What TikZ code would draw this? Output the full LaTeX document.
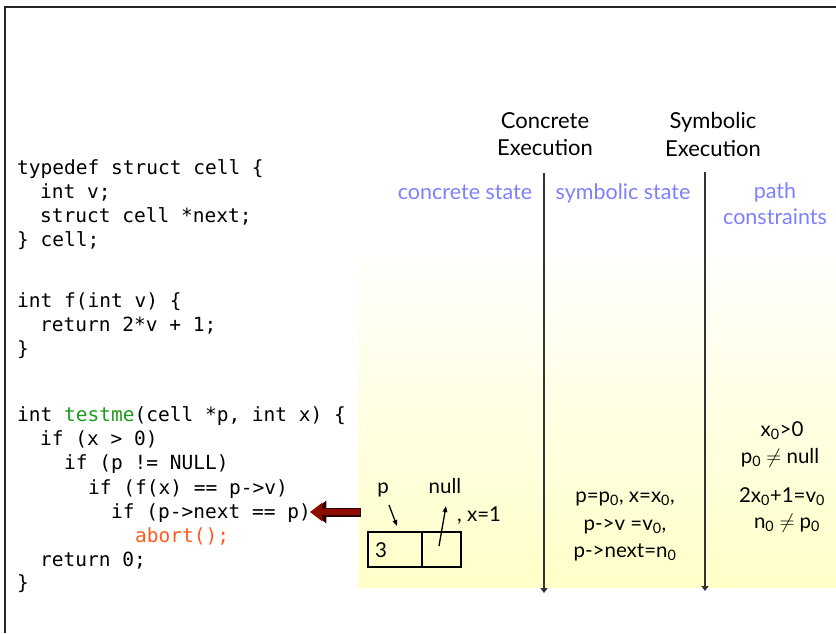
\documentclass[tikz,border=0pt]{standalone}
\usepackage{fontspec}
\setmainfont{Lato}
\newfontfamily\codefont{DejaVu Sans Mono}
\usetikzlibrary{arrows.meta}

\definecolor{fnname}{RGB}{30,155,30}
\definecolor{abortc}{RGB}{255,90,30}
\definecolor{labelblue}{RGB}{125,128,255}
\definecolor{pale}{RGB}{255,255,200}
\definecolor{arrowred}{RGB}{140,12,0}

\tikzset{
  code/.style={font=\codefont\fontsize{19.5}{24}\selectfont, anchor=base west, inner sep=0},
  head/.style={font=\fontsize{22}{26}\selectfont, anchor=base, inner sep=0},
  colhead/.style={font=\fontsize{21.5}{25}\selectfont, anchor=base, inner sep=0, text=labelblue},
  val/.style={font=\fontsize{20.5}{25}\selectfont, anchor=base, inner sep=0},
  timeline/.style={line width=1.2, draw=black!80, -{Triangle[length=5,width=7]}},
  ptr/.style={line width=1.3, -{Triangle[length=6,width=4.5]}},
  hitout/.style={line width=9, draw=black!70!arrowred, -{Triangle[length=15,width=22]}},
  hit/.style={line width=6.4, draw=arrowred, -{Triangle[length=12.5,width=18]}}
}

\begin{document}
\begin{tikzpicture}[x=1pt, y=-1pt]
\useasboundingbox (0,0) rectangle (836,633);

% frame
\draw[line width=1.6, draw=black!85] (5,633) -- (5,7) -- (836,7);

% shaded execution area
\shade[top color=white, bottom color=pale] (358,240) rectangle (836,587);

% source code
\node[code] (l1)  at (17,174) {typedef struct cell \{};
\node[code] (l2)  at (40,198) {int v;};
\node[code] (l3)  at (40,222) {struct cell *next;};
\node[code] (l4)  at (17,246) {\} cell;};
\node[code] (l5)  at (17,307) {int f(int v) \{};
\node[code] (l6)  at (40,331) {return 2*v + 1;};
\node[code] (l7)  at (17,355) {\}};
\node[code] (l8)  at (17,421) {int \textcolor{fnname}{testme}(cell *p, int x) \{};
\node[code] (l9)  at (40,445) {if (x > 0)};
\node[code] (l10) at (64,469) {if (p != NULL)};
\node[code] (l11) at (88,494) {if (f(x) == p->v)};
\node[code] (l12) at (111,518) {if (p->next == p)};
\node[code, text=abortc] (l13) at (135,542) {abort();};
\node[code] (l14) at (40,566) {return 0;};
\node[code] (l15) at (17,589) {\}};

% pointer to the current statement
\coordinate (hitstart) at (361,512);
\coordinate (hitend) at ([xshift=0.5,yshift=6]l12.base east);
\draw[hitout] (hitstart) -- (hitend);
\draw[hit] ([xshift=-1]hitstart) -- ([xshift=-1.6]hitend);

% column headings
\node[head] (ce1) at (545,128) {Concrete};
\node[head] (ce2) at (545,155) {Execution};
\node[head] (se1) at (713,128) {Symbolic};
\node[head] (se2) at (713,156) {Execution};

\node[colhead] (cs) at (465,199) {concrete state};
\node[colhead] (ss) at (623,199) {symbolic state};
\node[colhead] (pc1) at (775,198) {path};
\node[colhead] (pc2) at (775,224) {constraints};

% time lines
\coordinate (t1top) at (544,173);
\coordinate (t1bot) at (544,593);
\coordinate (t2top) at (705,172);
\coordinate (t2bot) at (705,591);
\draw[timeline] (t1top) -- (t1bot);
\draw[timeline] (t2top) -- (t2bot);

% concrete state: the heap cell
\node[draw, line width=1.4, minimum width=93, minimum height=35, inner sep=0] (mem) at (414.5,549.5) {};
\draw[line width=1.4] ([xshift=7.5]mem.north) -- ([xshift=7.5]mem.south);
\node[val, anchor=base] (three) at (381,557) {3};
\node[val] (pl) at (383,493) {p};
\node[val] (nl) at (445,493) {null};
\node[val, anchor=base west] (xv) at (457,521) {, x=1};
\coordinate (pa) at (389,505);
\coordinate (pb) at (397,526);
\draw[ptr] (pa) -- (pb);
\coordinate (na) at (439,546);
\coordinate (nb) at (446,506);
\draw[ptr] (na) -- (nb);

% symbolic state
\node[val] (s1) at (625,502) {p=p\textsubscript{0}, x=x\textsubscript{0},};
\node[val] (s2) at (625,530) {p->v =v\textsubscript{0},};
\node[val] (s3) at (625,557) {p->next=n\textsubscript{0}};

% path constraints
\node[val] (c1) at (782,436) {x\textsubscript{0}>0};
\node[val] (c2) at (780,463) {p\textsubscript{0} $\neq$ null};
\node[val] (c3) at (782,502) {2x\textsubscript{0}+1=v\textsubscript{0}};
\node[val] (c4) at (787,528) {n\textsubscript{0} $\neq$ p\textsubscript{0}};
\end{tikzpicture}
\end{document}
